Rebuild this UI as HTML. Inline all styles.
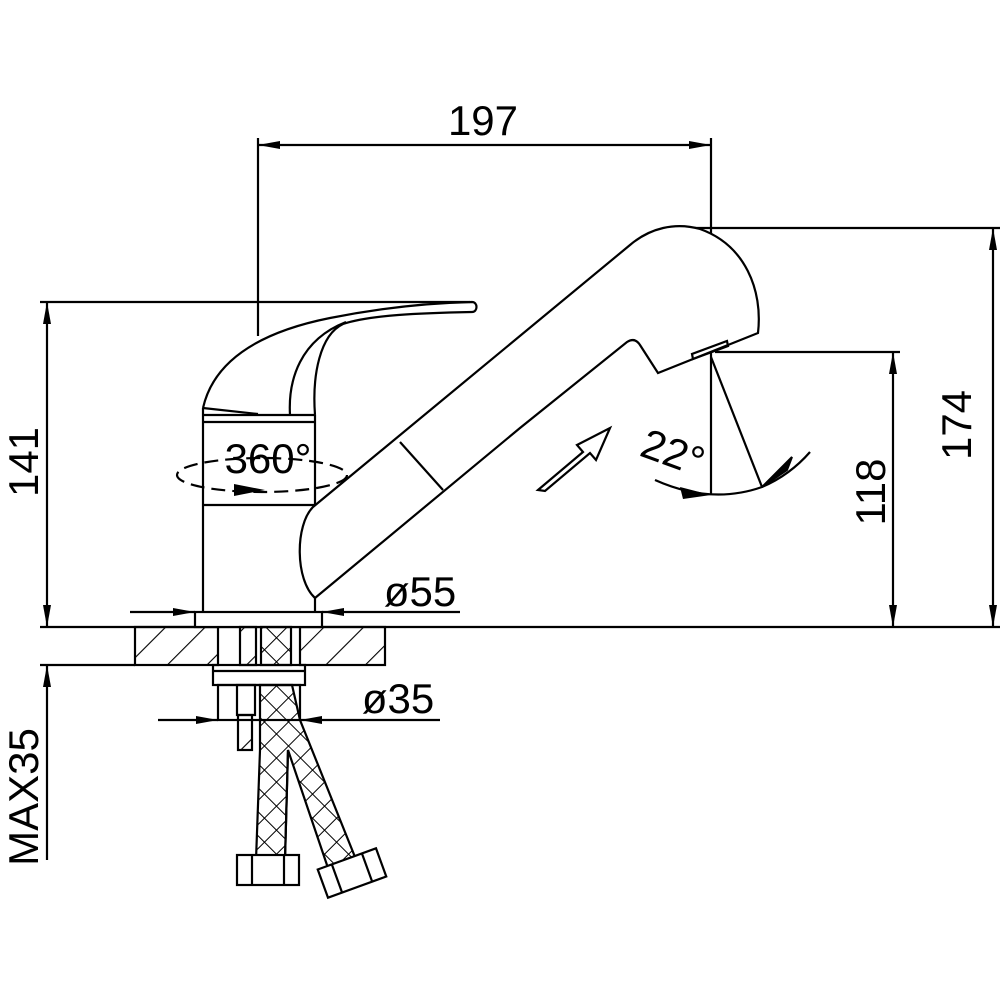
<!DOCTYPE html>
<html><head><style>html,body{margin:0;padding:0;background:#fff}svg{display:block}</style></head>
<body>
<svg width="1000" height="1000" viewBox="0 0 1000 1000" xmlns="http://www.w3.org/2000/svg">
<defs>
<pattern id="hatch" patternUnits="userSpaceOnUse" width="28" height="28" patternTransform="rotate(45)">
<line x1="0" y1="0" x2="0" y2="28" stroke="#000" stroke-width="2.2"/>
</pattern>
<pattern id="cross" patternUnits="userSpaceOnUse" width="17" height="17" patternTransform="rotate(45)">
<line x1="0" y1="0" x2="0" y2="17" stroke="#000" stroke-width="2"/>
<line x1="0" y1="0" x2="17" y2="0" stroke="#000" stroke-width="2"/>
</pattern>
<marker id="ah" markerWidth="22" markerHeight="8" refX="22" refY="4" orient="auto-start-reverse" markerUnits="userSpaceOnUse">
<path d="M0,0 L22,4 L0,8 Z" fill="#000"/>
</marker>
</defs>
<g fill="none" stroke="#000" stroke-width="2.2" font-family="Liberation Sans, sans-serif">
<line x1="258" y1="145" x2="711" y2="145" marker-start="url(#ah)" marker-end="url(#ah)"/>
<line x1="258" y1="138" x2="258" y2="336"/>
<line x1="711" y1="138" x2="711" y2="495"/>
<line x1="680" y1="228" x2="1000" y2="228"/>
<line x1="993" y1="228" x2="993" y2="627" marker-start="url(#ah)" marker-end="url(#ah)"/>
<line x1="715" y1="352" x2="900" y2="352"/>
<line x1="893" y1="352" x2="893" y2="627" marker-start="url(#ah)" marker-end="url(#ah)"/>
<line x1="40" y1="302" x2="470" y2="302"/>
<line x1="47" y1="302" x2="47" y2="627" marker-start="url(#ah)" marker-end="url(#ah)"/>
<line x1="40" y1="627" x2="1000" y2="627"/>
<line x1="40" y1="665" x2="135" y2="665"/>
<line x1="47" y1="860" x2="47" y2="665" marker-end="url(#ah)"/>
<rect x="135" y="627" width="83" height="38" fill="url(#hatch)"/>
<rect x="300" y="627" width="85" height="38" fill="url(#hatch)"/>
<rect x="195" y="612" width="127" height="15" fill="#fff"/>
<line x1="130" y1="612" x2="195" y2="612" marker-end="url(#ah)"/>
<line x1="460" y1="612" x2="322" y2="612" marker-end="url(#ah)"/>
<line x1="203" y1="612" x2="203" y2="408"/>
<line x1="315" y1="612" x2="315" y2="598"/>
<line x1="315" y1="507" x2="315" y2="415"/>
<line x1="203" y1="422" x2="315" y2="422"/>
<line x1="203" y1="505" x2="315" y2="505"/>
<line x1="203" y1="415" x2="315" y2="415"/>
<path d="M203,408 C215,355 270,330 330,318 C380,308 430,303 472,302 C478,302 478,312 472,312 C420,313 370,315 343,324 C320,335 312,375 315,415"/>
<path d="M203,408 L258,414"/>
<path d="M290,415 C288,380 300,340 346,322"/>
<ellipse cx="262" cy="475" rx="85" ry="17" stroke-dasharray="14,7"/>
<path d="M234,484 L265,490 L234,496 Z" fill="#000" stroke="none"/>
<path d="M315,598 L520,428 L627,342 Q635,337 640,345 L658,373 L758,333 C763,290 745,245 700,229 C675,222 650,228 630,245 L313,507 C295,525 295,580 315,598 Z" fill="#fff"/>
<line x1="400" y1="442" x2="443" y2="490"/>
<path d="M693,359 L728,346 L727,341 L692,354 Z"/>
<line x1="711" y1="357" x2="762" y2="487"/>
<path d="M655,480 Q711,505 762,487 Q790,475 810,452"/>
<path d="M680,487 L711,495 L683,499 Z" fill="#000" stroke="none"/>
<path d="M792,457 L762,487 L787,470 Z" fill="#000" stroke="#000" stroke-width="2"/>
<path d="M540,490 L585,452 L579,445 L612,428 L598,460 L592,453 L547,491 Z" transform="translate(-2,0)"/>
<rect x="213" y="665" width="92" height="20"/>
<line x1="213" y1="671" x2="305" y2="671"/>
<rect x="218" y="685" width="82" height="35"/>
<rect x="240" y="627" width="16" height="38" fill="url(#hatch)"/>
<rect x="237" y="685" width="18" height="30"/>
<rect x="238" y="715" width="14" height="35" fill="url(#hatch)"/>
<rect x="261" y="627" width="30" height="38" fill="url(#cross)"/>
<path d="M260,685 L292,685 L300,720 L355,857 L328,868 L288,750 L285,860 L256,860 L260,750 Z" fill="url(#cross)"/>
<line x1="288" y1="750" x2="285" y2="860"/>
<rect x="237" y="855" width="62" height="30" fill="#fff"/>
<line x1="252" y1="855" x2="252" y2="885"/><line x1="284" y1="855" x2="284" y2="885"/>
<g transform="rotate(-20 352 873)">
<rect x="321" y="858" width="62" height="30" fill="#fff"/>
<line x1="336" y1="858" x2="336" y2="888"/><line x1="368" y1="858" x2="368" y2="888"/>
</g>
<line x1="158" y1="720" x2="218" y2="720" marker-end="url(#ah)"/>
<line x1="440" y1="720" x2="300" y2="720" marker-end="url(#ah)"/>
</g>
<g font-family="Liberation Sans, sans-serif" font-size="42" fill="#000">
<text x="483" y="135" text-anchor="middle">197</text>
<text x="268" y="473" text-anchor="middle">360°</text>
<text x="420" y="606" text-anchor="middle">ø55</text>
<text x="398" y="713" text-anchor="middle">ø35</text>
<text transform="translate(971,425) rotate(-90)" text-anchor="middle">174</text>
<text transform="translate(885,492) rotate(-90)" text-anchor="middle">118</text>
<text transform="translate(38,462) rotate(-90)" text-anchor="middle">141</text>
<text transform="translate(38,797) rotate(-90)" text-anchor="middle">MAX35</text>
<text transform="translate(668,466) rotate(20)" text-anchor="middle">22°</text>
</g>
</svg>
</body></html>
